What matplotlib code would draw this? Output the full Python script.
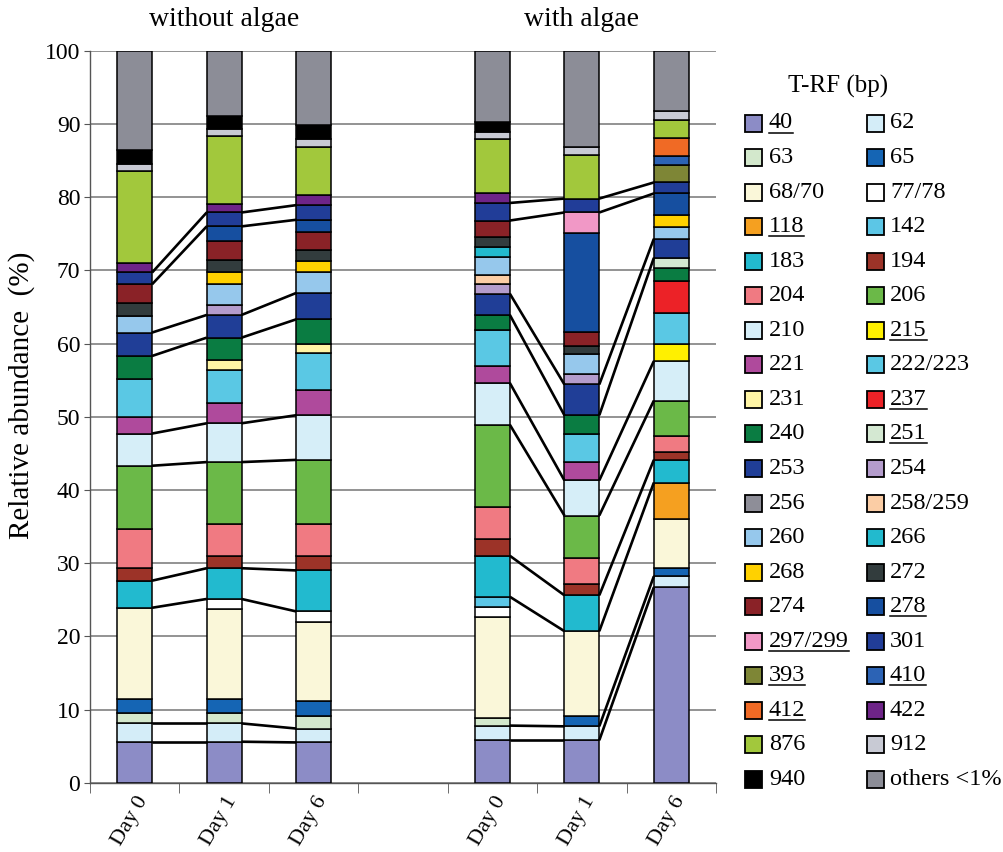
import matplotlib
matplotlib.use('Agg')
import matplotlib.pyplot as plt
import matplotlib.transforms as mtransforms
from matplotlib.patches import Rectangle
from matplotlib.lines import Line2D
import numpy as np

plt.rcParams['font.family'] = ['Liberation Serif', 'DejaVu Serif']

# ---------------- data ----------------
trf = ['40', '62', '63', '65', '68/70', '77/78', '118', '142', '183', '194',
       '204', '206', '210', '215', '221', '222/223', '231', '237', '240', '251',
       '253', '254', '256', '258/259', '260', '266', '268', '272', '274', '278',
       '297/299', '301', '393', '410', '412', '422', '876', '912', '940', 'others <1%']

colors = ['#8C8CC6', '#D4EDF8', '#D3E8CC', '#1565B4', '#FAF7D9', '#FFFFFF', '#F5A020', '#5CC6E6', '#22BACF', '#9C3328',
          '#F07A82', '#6BB948', '#D6EEF8', '#FFF000', '#AF4A9C', '#5AC8E4', '#FFF5A5', '#EC2227', '#0A7C42', '#D4E8D2',
          '#203E97', '#B49CCC', '#8E8E98', '#FBCDA5', '#96C8EC', '#22BACE', '#FFD100', '#323C3D', '#8A2227', '#164FA0',
          '#F198C6', '#213D98', '#7E8636', '#2C63B5', '#F06A25', '#6E2488', '#A2C83C', '#C8CAD4', '#000000', '#8C8D97']

underlined = ['40', '118', '215', '237', '251', '278', '297/299', '393', '410', '412']

bar_labels = ['Day 0', 'Day 1', 'Day 6', 'Day 0', 'Day 1', 'Day 6']
bar_pos = [0, 1, 2, 4, 5, 6]
group_titles = ['without algae', 'with algae']
group_centers = [1, 5]
linked = ['62', '183', '210', '253', '301']

#            40   62   63   65  68/70 77/78 118  142  183  194  204  206  210  215  221 222/3 231  237  240  251  253  254  256 258/9 260  266  268  272  274  278 297/9 301  393  410  412  422  876  912  940  oth
wo_day0 = [5.6, 2.5, 1.4, 1.9, 12.5, 0.0, 0.0, 0.0, 3.7, 1.7, 5.3, 8.7, 4.4, 0.0, 2.2, 5.3, 0.0, 0.0, 3.1, 0.0, 3.2, 0.0, 0.0, 0.0, 2.2, 0.0, 0.0, 1.9, 2.5, 0.0, 0.0, 1.6, 0.0, 0.0, 0.0, 1.3, 12.5, 1.0, 1.9, 13.6]
wo_day1 = [5.6, 2.5, 1.4, 1.9, 12.3, 1.4, 0.0, 0.0, 4.2, 1.7, 4.4, 8.4, 5.3, 0.0, 2.8, 4.5, 1.3, 0.0, 3.1, 0.0, 3.1, 1.4, 0.0, 0.0, 2.8, 0.0, 1.7, 1.6, 2.6, 2.0, 0.0, 1.9, 0.0, 0.0, 0.0, 1.1, 9.3, 1.0, 1.8, 8.9]
wo_day6 = [5.5, 1.9, 1.7, 2.0, 10.9, 1.4, 0.0, 0.0, 5.6, 2.0, 4.4, 8.7, 6.1, 0.0, 3.4, 5.1, 1.3, 0.0, 3.3, 0.0, 3.6, 0.0, 0.0, 0.0, 2.8, 0.0, 1.6, 1.5, 2.5, 1.6, 0.0, 2.0, 0.0, 0.0, 0.0, 1.4, 6.6, 1.1, 1.9, 10.1]
w_day0 = [5.8, 2.0, 1.1, 0.0, 13.7, 1.4, 0.0, 1.4, 5.6, 2.3, 4.4, 11.2, 5.7, 0.0, 2.3, 4.9, 0.0, 0.0, 2.1, 0.0, 2.9, 1.3, 0.0, 1.2, 2.5, 1.4, 0.0, 1.3, 2.3, 0.0, 0.0, 2.4, 0.0, 0.0, 0.0, 1.4, 7.4, 0.9, 1.4, 9.7]
w_day1 = [5.8, 1.9, 0.0, 1.4, 11.6, 0.0, 0.0, 0.0, 4.9, 1.6, 3.5, 5.8, 4.8, 0.0, 2.5, 3.9, 0.0, 0.0, 2.5, 0.0, 4.2, 1.4, 0.0, 0.0, 2.8, 0.0, 0.0, 1.1, 1.9, 13.5, 2.8, 1.9, 0.0, 0.0, 0.0, 0.0, 6.0, 1.0, 0.0, 13.2]
w_day6 = [26.7, 1.5, 0.0, 1.1, 6.7, 0.0, 5.0, 0.0, 3.1, 1.1, 2.2, 4.8, 5.4, 2.4, 0.0, 4.2, 0.0, 4.4, 1.7, 1.4, 2.6, 0.0, 0.0, 0.0, 1.6, 0.0, 1.7, 0.0, 0.0, 2.9, 0.0, 1.5, 2.4, 1.2, 2.5, 0.0, 2.5, 1.1, 0.0, 8.3]

samples = [wo_day0, wo_day1, wo_day6, w_day0, w_day1, w_day6]

# ---------------- figure ----------------
W, H = 1004, 852
fig = plt.figure(figsize=(W / 100, H / 100), dpi=100)
ax = fig.add_axes([90 / W, 1 - 782.7 / H, 626 / W, 732 / H])

vals = np.array(samples, dtype=float)          # (bars, series)
cum_top = np.cumsum(vals, axis=1)
cum_bot = cum_top - vals
bar_w = 0.39

for k, name in enumerate(trf):
    for b, x in enumerate(bar_pos):
        v = vals[b, k]
        if v <= 0:
            continue
        ax.bar(x, v, bottom=cum_bot[b, k], width=bar_w, color=colors[k],
               edgecolor='black', linewidth=1.1, zorder=3)

# series lines joining the chosen T-RFs between neighbouring bars
pairs = [(0, 1), (1, 2), (3, 4), (4, 5)]
for name in linked:
    k = trf.index(name)
    for a, b in pairs:
        xa = bar_pos[a] + bar_w / 2
        xb = bar_pos[b] - bar_w / 2
        for arr in (cum_bot, cum_top):
            ax.plot([xa, xb], [arr[a, k], arr[b, k]], color='black', lw=1.9,
                    zorder=4, solid_capstyle='butt')

ax.set_xlim(-0.5, 6.5)
ax.set_ylim(0, 100)
ax.set_yticks(np.arange(0, 101, 10))
ax.yaxis.grid(True, color='#8a8a8a', lw=1.3)
ax.set_axisbelow(True)
for s in ('top', 'right'):
    ax.spines[s].set_visible(False)
for s in ('left', 'bottom'):
    ax.spines[s].set_color('#555555')
    ax.spines[s].set_linewidth(1.0)
ax.tick_params(axis='y', labelsize=17, length=4, color='#555555', pad=3)

ax.set_xticks(bar_pos)
ax.set_xticklabels(bar_labels, rotation=60, ha='right', va='center',
                   rotation_mode='anchor', fontsize=16)
ax.set_xticks(np.arange(-0.5, 7, 1), minor=True)
ax.tick_params(axis='x', which='major', length=0, pad=11)
ax.tick_params(axis='x', which='minor', length=7, color='#555555')
off = mtransforms.ScaledTranslation(9 / 100, 0, fig.dpi_scale_trans)
for lab in ax.get_xticklabels():
    lab.set_transform(lab.get_transform() + off)

fig.text(22 / W, 1 - 395 / H, 'Relative abundance  (%)', rotation=90,
         ha='center', va='center', fontsize=21)

tr = mtransforms.blended_transform_factory(ax.transData, ax.transAxes)
for t, c in zip(group_titles, group_centers):
    ax.text(c, (782.7 - 20) / 732, t, transform=tr, ha='center', va='center',
            fontsize=20)

# ---------------- legend (T-RF) ----------------
fig.text(838 / W, 1 - 86 / H, 'T-RF (bp)', ha='center', va='center', fontsize=18)
row0, dy = 123, 34.55
sq = 17
col_sq = [745, 867]
col_tx = [769, 890]
under_texts = []
for i, name in enumerate(trf):
    r, c = divmod(i, 2)
    yc = row0 + r * dy
    fig.patches.append(Rectangle((col_sq[c] / W, 1 - (yc + sq / 2) / H), sq / W, sq / H,
                                 transform=fig.transFigure, facecolor=colors[i],
                                 edgecolor='black', linewidth=1.3))
    t = fig.text(col_tx[c] / W, 1 - yc / H, name, ha='left', va='center',
                 fontsize=17.5)
    if name in underlined:
        under_texts.append(t)

fig.canvas.draw()
r = fig.canvas.get_renderer()
for t in under_texts:
    bb = t.get_window_extent(r)
    yline = bb.y0 + 1
    fig.lines.append(Line2D([bb.x0 / W, bb.x1 / W], [yline / H, yline / H],
                            transform=fig.transFigure, color='black', lw=1.1))

fig.savefig('out.png', dpi=100)
